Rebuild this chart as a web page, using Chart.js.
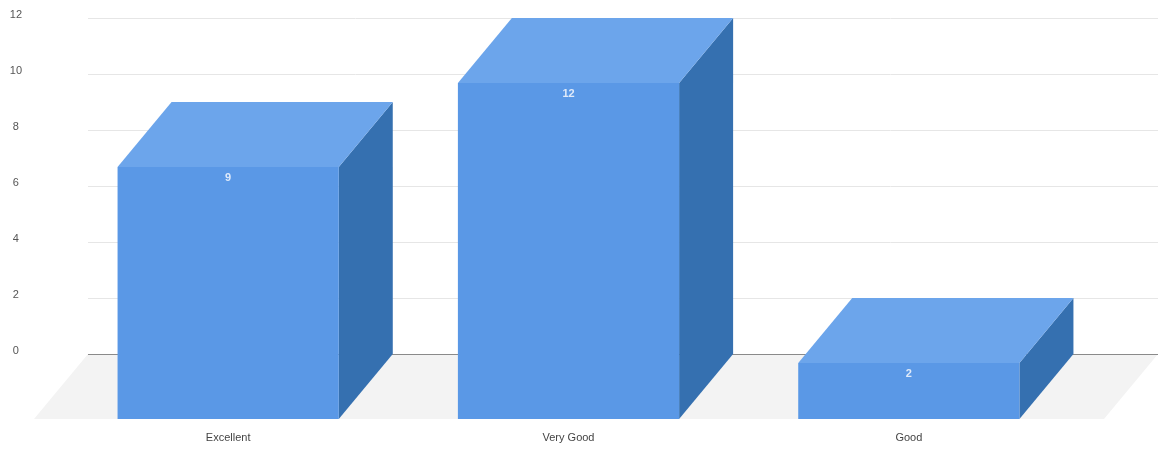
<!DOCTYPE html>
<html>
<head>
<meta charset="utf-8">
<script src="https://cdn.jsdelivr.net/npm/chart.js@4.4.1/dist/chart.umd.min.js"></script>
<style>
  html, body { margin: 0; padding: 0; background: #fff; }
  #wrap { width: 1158px; height: 450px; position: relative; }
</style>
</head>
<body>
<div id="wrap"><canvas id="chart"></canvas></div>
<script>
// ─── DADOS ────────────────────────────────────────────────
const categories = ['Excellent', 'Very Good', 'Good'];
const responses = [9, 12, 2];
const yMax = 12;
const yStep = 2;

// profundidade do efeito 3D (px)
const DEPTH_X = 54;
const DEPTH_Y = 65;

const FRONT = '#5a98e6';
const TOP = '#6ca5eb';
const SIDE = '#3570b0';

Chart.defaults.font.family = '"Liberation Sans", Arial, sans-serif';

// chão + linhas de grade (plano de trás) e barras 3D a partir dos elementos do Chart.js
const bars3d = {
  id: 'bars3d',
  beforeDatasetsDraw(chart) {
    const { ctx, chartArea, scales: { y } } = chart;
    const zero = y.getPixelForValue(0);
    const left = chartArea.left - 24, right = chart.width;
    ctx.save();
    ctx.fillStyle = '#f3f3f3';
    ctx.beginPath();
    ctx.moveTo(left, zero);
    ctx.lineTo(right, zero);
    ctx.lineTo(right - DEPTH_X, zero + DEPTH_Y);
    ctx.lineTo(left - DEPTH_X, zero + DEPTH_Y);
    ctx.closePath();
    ctx.fill();
    y.ticks.forEach(t => {
      const py = Math.round(y.getPixelForValue(t.value)) + 0.5;
      ctx.strokeStyle = t.value === 0 ? '#8a8a8a' : '#e6e6e6';
      ctx.lineWidth = 1;
      ctx.beginPath();
      ctx.moveTo(left, py);
      ctx.lineTo(right, py);
      ctx.stroke();
    });
    ctx.restore();
  },
  afterDatasetsDraw(chart) {
    const { ctx } = chart;
    const meta = chart.getDatasetMeta(0);
    ctx.save();
    meta.data.forEach((bar, i) => {
      const { x, y, base, width } = bar.getProps(['x', 'y', 'base', 'width'], true);
      const bl = x - width / 2, br = x + width / 2;
      const fl = bl - DEPTH_X, fr = br - DEPTH_X;
      const ft = y + DEPTH_Y, fb = base + DEPTH_Y;
      // lateral
      ctx.fillStyle = SIDE;
      ctx.beginPath();
      ctx.moveTo(fr, ft); ctx.lineTo(br, y); ctx.lineTo(br, base); ctx.lineTo(fr, fb);
      ctx.closePath(); ctx.fill();
      // topo
      ctx.fillStyle = TOP;
      ctx.beginPath();
      ctx.moveTo(fl, ft); ctx.lineTo(bl, y); ctx.lineTo(br, y); ctx.lineTo(fr, ft);
      ctx.closePath(); ctx.fill();
      // frente
      ctx.fillStyle = FRONT;
      ctx.fillRect(fl, ft, width, fb - ft);
      // valor
      ctx.fillStyle = '#dfeafa';
      ctx.font = 'bold 11px "Liberation Sans", Arial, sans-serif';
      ctx.textAlign = 'center';
      ctx.textBaseline = 'middle';
      ctx.fillText(String(responses[i]), x - DEPTH_X, ft + 11);
    });
    ctx.restore();
  }
};

new Chart(document.getElementById('chart'), {
  type: 'bar',
  data: {
    labels: categories,
    datasets: [{
      data: responses,
      backgroundColor: 'rgba(0,0,0,0)',
      borderWidth: 0,
      barPercentage: 0.65,
      categoryPercentage: 1
    }]
  },
  options: {
    responsive: true,
    maintainAspectRatio: false,
    animation: false,
    layout: { padding: { top: 18, right: 25, left: 0, bottom: 0 } },
    plugins: { legend: { display: false }, tooltip: { enabled: false } },
    scales: {
      x: {
        grid: { display: false, drawTicks: false },
        border: { display: false },
        ticks: { color: '#444', font: { size: 11 }, padding: 77, labelOffset: -54 },
        afterFit: s => { s.height = 96; }
      },
      y: {
        min: 0,
        max: yMax,
        grid: { display: false, drawTicks: false },
        border: { display: false },
        ticks: { stepSize: yStep, color: '#555', font: { size: 11 }, crossAlign: 'center', padding: 90, labelOffset: -3 },
        afterFit: s => { s.width = 112; s.paddingTop = 0; s.paddingBottom = 0; }
      }
    }
  },
  plugins: [bars3d]
});
</script>
</body>
</html>
